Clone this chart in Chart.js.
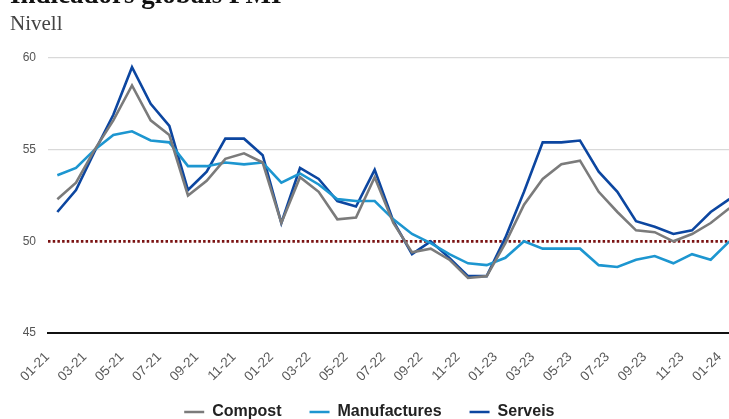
<!DOCTYPE html>
<html>
<head>
<meta charset="utf-8">
<script src="https://cdn.jsdelivr.net/npm/chart.js@4.4.1/dist/chart.umd.min.js"></script>
<style>
  html, body { margin: 0; padding: 0; background: #fff; }
  #wrap { position: relative; width: 729px; height: 419px; overflow: hidden; background: #fff; }
  #title { position: absolute; left: 10px; top: -21px; font: bold 27px "Liberation Serif", serif; color: #111; white-space: nowrap; }
  #sub { position: absolute; left: 10px; top: 11px; font: 21px "Liberation Serif", serif; color: #444; }
  #box { position: absolute; left: 0; top: 0; width: 750px; height: 430px; }
</style>
</head>
<body>
<div id="wrap">
  <div id="box"><canvas id="c" width="750" height="430"></canvas></div>
  <div id="title">Indicadors globals PMI</div>
  <div id="sub">Nivell</div>
</div>
<script>
// Monthly PMI levels, January 2021 to January 2024
const months = [
  '01-21','02-21','03-21','04-21','05-21','06-21','07-21','08-21','09-21','10-21','11-21','12-21',
  '01-22','02-22','03-22','04-22','05-22','06-22','07-22','08-22','09-22','10-22','11-22','12-22',
  '01-23','02-23','03-23','04-23','05-23','06-23','07-23','08-23','09-23','10-23','11-23','12-23',
  '01-24'
];
const compost = [
  52.3, 53.2, 55.0, 56.6, 58.5, 56.6, 55.8, 52.5, 53.3, 54.5, 54.8, 54.3,
  51.0, 53.5, 52.7, 51.2, 51.3, 53.5, 51.0, 49.4, 49.6, 49.0, 48.0, 48.1,
  49.9, 52.0, 53.4, 54.2, 54.4, 52.7, 51.6, 50.6, 50.5, 50.0, 50.4, 51.0,
  51.8
];
const manufactures = [
  53.6, 54.0, 55.0, 55.8, 56.0, 55.5, 55.4, 54.1, 54.1, 54.3, 54.2, 54.3,
  53.2, 53.7, 53.1, 52.3, 52.2, 52.2, 51.2, 50.4, 49.9, 49.3, 48.8, 48.7,
  49.1, 50.0, 49.6, 49.6, 49.6, 48.7, 48.6, 49.0, 49.2, 48.8, 49.3, 49.0,
  50.0
];
const serveis = [
  51.6, 52.8, 54.9, 56.9, 59.5, 57.5, 56.3, 52.8, 53.8, 55.6, 55.6, 54.7,
  51.0, 54.0, 53.4, 52.2, 51.9, 53.9, 51.1, 49.3, 50.0, 49.1, 48.1, 48.1,
  50.2, 52.7, 55.4, 55.4, 55.5, 53.8, 52.7, 51.1, 50.8, 50.4, 50.6, 51.6,
  52.3
];
const yTicks = [45, 50, 55, 60];
const threshold = 50;

// Dotted expansion/contraction threshold across the plot area
const thresholdLine = {
  id: 'thresholdLine',
  beforeDatasetsDraw(chart) {
    const {ctx, chartArea, scales} = chart;
    const y = scales.y.getPixelForValue(threshold);
    ctx.save();
    ctx.strokeStyle = '#7a1212';
    ctx.lineWidth = 2.6;
    ctx.setLineDash([2.5, 2.2]);
    ctx.beginPath();
    ctx.moveTo(chartArea.left, y);
    ctx.lineTo(chartArea.right, y);
    ctx.stroke();
    ctx.restore();
  }
};

const lineStyle = { borderWidth: 2.6, pointRadius: 0, pointHoverRadius: 0, tension: 0, fill: false };

new Chart(document.getElementById('c'), {
  type: 'line',
  data: {
    labels: months,
    datasets: [
      Object.assign({ label: 'Compost', data: compost, borderColor: '#7b7b7b', backgroundColor: '#7b7b7b' }, lineStyle),
      Object.assign({ label: 'Manufactures', data: manufactures, borderColor: '#1d96d0', backgroundColor: '#1d96d0' }, lineStyle),
      Object.assign({ label: 'Serveis', data: serveis, borderColor: '#0c46a0', backgroundColor: '#0c46a0' }, lineStyle)
    ]
  },
  options: {
    responsive: false,
    animation: false,
    layout: { padding: { top: 58, right: 11.3, left: 0, bottom: 0 } },
    plugins: {
      tooltip: { enabled: false },
      legend: {
        position: 'bottom',
        labels: {
          usePointStyle: true,
          pointStyle: 'line',
          pointStyleWidth: 20,
          padding: 28,
          color: '#222',
          font: { family: 'Liberation Sans, Arial, sans-serif', size: 16, weight: 'bold' }
        }
      }
    },
    scales: {
      x: {
        offset: true,
        grid: { display: false, drawTicks: false },
        border: { display: true, color: '#111', width: 2 },
        afterFit(scale) {
          scale.height = 43;
          scale.paddingLeft = 0;
          scale.paddingRight = 0;
          // rotated labels hang below the axis box; let them draw in full
          scale._computeLabelArea = () => undefined;
        },
        ticks: {
          autoSkip: false,
          maxRotation: 45,
          minRotation: 45,
          padding: 16,
          labelOffset: -10,
          color: '#5a5a5a',
          font: { family: 'Liberation Sans, Arial, sans-serif', size: 13.5 },
          callback(value, index) { return index % 2 === 0 ? months[index] : ''; }
        }
      },
      y: {
        min: yTicks[0],
        max: yTicks[yTicks.length - 1],
        afterFit(scale) { scale.width = 48; },
        afterBuildTicks(scale) { scale.ticks = yTicks.map(v => ({ value: v })); },
        border: { display: false },
        grid: {
          drawTicks: false,
          color(ctx) { return (ctx.tick && (ctx.tick.value === 55 || ctx.tick.value === 60)) ? '#d9d9d9' : 'rgba(0,0,0,0)'; },
          lineWidth: 1.2
        },
        ticks: {
          padding: 12,
          color: '#555',
          font: { family: 'Liberation Sans, Arial, sans-serif', size: 12 }
        }
      }
    }
  },
  plugins: [thresholdLine]
});
</script>
</body>
</html>
